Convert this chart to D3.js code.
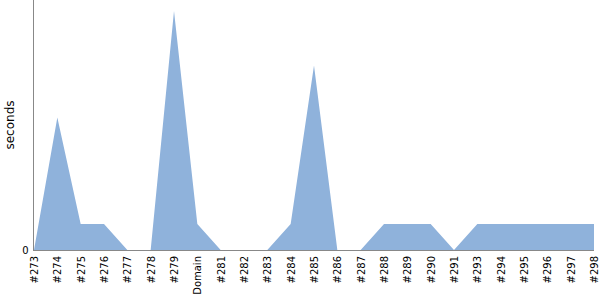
<!DOCTYPE html>
<html>
<head>
<meta charset="utf-8">
<script src="https://cdn.jsdelivr.net/npm/d3@7"></script>
<style>
  body { margin: 0; background: #fff; }
  svg { font-family: "DejaVu Sans", sans-serif; }
</style>
</head>
<body>
<div id="chart"></div>
<script>
// categories along the x axis
const builds = ["#273", "#274", "#275", "#276", "#277", "#278", "#279", "Domain",
  "#281", "#282", "#283", "#284", "#285", "#286", "#287", "#288", "#289", "#290",
  "#291", "#293", "#294", "#295", "#296", "#297", "#298"];

// duration in seconds per build
const seconds = [0, 5.1, 1, 1, 0, 0, 9.2, 1,
  0, 0, 0, 1, 7.1, 0, 0, 1, 1, 1,
  0, 1, 1, 1, 1, 1, 1];

const yTicks = [0];

const width = 600, height = 300;
const margin = {top: 0, right: 6, bottom: 50, left: 34};
const font = "DejaVu Sans, sans-serif";

const svg = d3.select("#chart").append("svg")
  .attr("width", width)
  .attr("height", height);

const xScale = d3.scalePoint()
  .domain(builds)
  .range([margin.left, width - margin.right]);

const yScale = d3.scaleLinear()
  .domain([0, 9.62])
  .range([height - margin.bottom, margin.top]);

const area = d3.area()
  .x((d, i) => xScale(builds[i]))
  .y0(yScale(0))
  .y1(d => yScale(d));

svg.append("path")
  .datum(seconds)
  .attr("fill", "#8fb2db")
  .attr("d", area);

// x axis
const xAxisGroup = svg.append("g")
  .attr("transform", `translate(0,${height - margin.bottom})`)
  .call(d3.axisBottom(xScale).tickSize(0).tickPadding(0))
  .attr("font-family", font);
xAxisGroup.select(".domain").attr("stroke", "#888").attr("d", `M${margin.left - 1},0.5H${width - margin.right}`);
xAxisGroup.selectAll("text")
  .attr("transform", "rotate(-90)")
  .attr("text-anchor", "end")
  .attr("x", -6)
  .attr("y", 0)
  .attr("dy", "0.35em")
  .attr("font-size", 10)
  .attr("fill", "#000");

// y axis
const yAxisGroup = svg.append("g")
  .attr("transform", `translate(${margin.left - 0.5},0)`)
  .call(d3.axisLeft(yScale).tickValues(yTicks).tickSize(0).tickPadding(5))
  .attr("font-family", font);
yAxisGroup.select(".domain").attr("stroke", "#888").attr("d", `M0,0V${height - margin.bottom}`);
yAxisGroup.selectAll("text").attr("font-size", 10).attr("fill", "#000");

svg.append("text")
  .attr("transform", `translate(14,${(height - margin.bottom) / 2}) rotate(-90)`)
  .attr("text-anchor", "middle")
  .attr("font-family", font)
  .attr("font-size", 12)
  .text("seconds");
</script>
</body>
</html>
